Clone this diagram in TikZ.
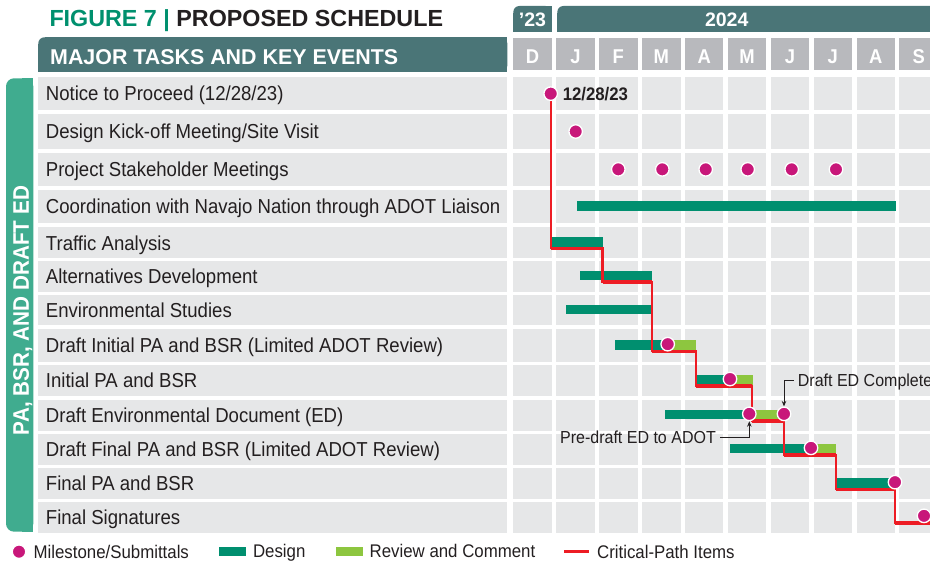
\documentclass[tikz,border=0pt]{standalone}
\usepackage{fontspec}
\setmainfont{Liberation Sans}[FakeStretch=0.92]
\newfontfamily\headfont{Liberation Sans}
\usepackage{tikz}
\usetikzlibrary{calc}
\usetikzlibrary{positioning}
\usetikzlibrary{arrows.meta}
\definecolor{figgreen}{HTML}{00906E}
\definecolor{slate}{HTML}{4A7577}
\definecolor{monthgray}{HTML}{B8B9BD}
\definecolor{cellgray}{HTML}{E6E7E8}
\definecolor{phasegreen}{HTML}{40AC8F}
\definecolor{designgreen}{HTML}{008F6F}
\definecolor{reviewgreen}{HTML}{8DC63F}
\definecolor{critred}{HTML}{ED1C24}
\definecolor{mstonepink}{HTML}{C8177A}
\definecolor{ink}{HTML}{231F20}
\newcommand{\colx}[1]{513.3+42.9*#1}
\newcommand{\colw}{38.5}
% box with only its top-left corner rounded
\newcommand{\tabfill}[5]{%
    \fill[#5, rounded corners=6pt] (#1,#2) rectangle (#3,#4);
    \fill[#5] ({#1+7},#2) rectangle (#3,#4);
    \fill[#5] (#1,{#2+7}) rectangle (#3,#4);
}
\newcommand{\taskbar}[4][design]{\fill[#1] ($(row#2)+(#3,-5.5)$) rectangle ($(row#2)+(#4,4)$);}
\tikzset{
    tasklabel/.style={anchor=base west, inner sep=0pt, text=ink, font=\fontsize{20.2}{22}\selectfont},
    monthlbl/.style={inner sep=0pt, text=white, text height=14pt, text depth=0pt, font=\bfseries\fontsize{20}{21}\selectfont},
    yearlbl/.style={inner sep=0pt, text=white, text height=13.5pt, text depth=0pt, font=\headfont\bfseries\fontsize{19.5}{21}\selectfont},
    mstone/.style={circle, fill=mstonepink, draw=white, line width=1.3pt, minimum size=13.5pt, inner sep=0pt},
    design/.style={fill=designgreen},
    review/.style={fill=reviewgreen},
    critpath/.style={draw=critred, line width=2.2pt},
    note/.style={inner xsep=4pt, inner ysep=0pt, text=ink, text height=12.5pt, text depth=0pt, font=\fontsize{17.4}{19}\selectfont},
    callout/.style={draw=ink, line width=1pt, -{Stealth[length=5.5pt, width=4.5pt]}},
    swatch/.style={minimum width=26.7pt, minimum height=9.3pt, inner sep=0pt},
    legendtext/.style={inner sep=0pt, text=ink, text height=13.3pt, text depth=0pt, font=\fontsize{18.3}{20}\selectfont}
}
\begin{document}
\begin{tikzpicture}[x=1pt, y=-1pt]
    \useasboundingbox (0,0) rectangle (930,564);

    % headings
    \node[anchor=base west, inner sep=0pt, font=\headfont\bfseries\fontsize{23.3}{26}\selectfont] (title) at (49.3,26.7)
        {\textcolor{figgreen}{FIGURE 7 |} \textcolor{ink}{PROPOSED SCHEDULE}};
    \tabfill{513.3}{6}{551.7}{31.7}{slate}
    \tabfill{557.3}{6}{940}{31.7}{slate}
    \node[yearlbl] (yr23) at (532.5,19.8) {’23};
    \node[yearlbl] (yr24) at (726.7,19.8) {2024};
    \tabfill{38.3}{37.3}{507.3}{71.7}{slate}
    \node[anchor=base west, inner sep=0pt, text=white, font=\headfont\bfseries\fontsize{21.4}{24}\selectfont] (tasks) at (50,65)
        {MAJOR TASKS AND KEY EVENTS};
    \foreach \m [count=\i from 0] in {D,J,F,M,A,M,J,J,A,S} {
        \fill[monthgray] ({\colx{\i}},38.3) rectangle ++(\colw,31.7);
        \node[monthlbl] (month\i) at ({\colx{\i}+\colw/2},56.3) {\m};
    }

    % phase tab on the left
    \fill[phasegreen, rounded corners=8pt] (6,78.3) rectangle (33.3,531.7);
    \fill[phasegreen] (22,78.3) rectangle (33.3,531.7);
    \node[rotate=90, inner sep=0pt, text=white, text height=16.1pt, text depth=0pt, font=\bfseries\fontsize{22.5}{24}\selectfont]
        (phase) at (20.8,310.5) {PA, BSR, AND DRAFT ED};

    % rows and grid
    \foreach \t/\b [count=\rw] in {77.3/110, 114/149, 152.7/186, 190/223.3, 227.3/258.3, 261/291.7, 295.3/325,
                                  329/362.3, 365/396, 400/430.7, 434/464.7, 468.3/499, 502/532.7} {
        \fill[cellgray] (38.3,\t) rectangle (507.3,\b);
        \foreach \cl in {0,...,9}
            \fill[cellgray] ({\colx{\cl}},\t) rectangle ({\colx{\cl}+\colw},\b);
        \coordinate (row\rw) at (0,{(\t+\b)/2});
    }
    \foreach \txt [count=\rw] in {{Notice to Proceed (12/28/23)}, {Design Kick-off Meeting/Site Visit},
            {Project Stakeholder Meetings}, {Coordination with Navajo Nation through ADOT Liaison},
            {Traffic Analysis}, {Alternatives Development}, {Environmental Studies},
            {Draft Initial PA and BSR (Limited ADOT Review)}, {Initial PA and BSR},
            {Draft Environmental Document (ED)}, {Draft Final PA and BSR (Limited ADOT Review)},
            {Final PA and BSR}, {Final Signatures}}
        \node[tasklabel] (task\rw) at ($(row\rw)+(45.7,7.3)$) {\txt};

    % bars
    \taskbar{4}{577}{896}
    \taskbar{5}{551.7}{602.7}
    \taskbar{6}{580}{652}
    \taskbar{7}{566}{652}
    \taskbar{8}{615}{670} \taskbar[review]{8}{667.7}{696}
    \taskbar{9}{696}{732} \taskbar[review]{9}{730}{752.7}
    \taskbar{10}{665}{752} \taskbar[review]{10}{749.3}{784}
    \taskbar{11}{730}{813} \taskbar[review]{11}{811}{835.7}
    \taskbar{12}{835}{895}

    % critical path
    \draw[critpath] ($(row1)+(550.7,0)$) |- ($(row5)+(602.5,5.6)$) |- ($(row6)+(652,5.6)$) |- ($(row8)+(696,5.6)$)
        |- ($(row9)+(752,5.6)$) |- ($(row10)+(784,5.6)$) |- ($(row11)+(835.7,5.6)$) |- ($(row12)+(895,5.6)$)
        |- ($(row13)+(940,5.6)$);
    \foreach \rw/\xa/\xb in {5/550.7/602.5, 6/602.5/652, 8/652/696, 9/696/752, 10/752/784,
                             11/784/835.7, 12/835.7/895, 13/895/940}
        \draw[critpath, line width=3.4pt] ($(row\rw)+(\xa,5.6)$) -- ($(row\rw)+(\xb,5.6)$);

    % milestones
    \node[mstone] (ntp) at ($(row1)+(550.7,0)$) {};
    \node[anchor=west, inner sep=0pt, text=ink, text height=13.1pt, text depth=0pt, font=\bfseries\fontsize{18.2}{20}\selectfont,
        right=4.5pt of ntp] (ntpdate) {12/28/23};
    \node[mstone] (kickoff) at ($(row2)+(575.7,0)$) {};
    \foreach \x [count=\k] in {618.3,662.3,705.7,747.7,791.7,836}
        \node[mstone] (meet\k) at ($(row3)+(\x,0)$) {};
    \node[mstone] (sub8) at ($(row8)+(667.7,-1.5)$) {};
    \node[mstone] (sub9) at ($(row9)+(730,-1.5)$) {};
    \node[mstone] (sub10a) at ($(row10)+(749.3,-1.5)$) {};
    \node[mstone] (sub10b) at ($(row10)+(784,-1.5)$) {};
    \node[mstone] (sub11) at ($(row11)+(811,-1.5)$) {};
    \node[mstone] (sub12) at ($(row12)+(895,-1.5)$) {};
    \node[mstone] (sub13) at ($(row13)+(924,-1.5)$) {};

    % callouts
    \node[note, anchor=west] (edcomplete) at (793.7,380.5) {Draft ED Complete};
    \draw[callout] (edcomplete.west) -| (sub10b.north);
    \node[note, anchor=east] (predraft) at (720,437.5) {Pre-draft ED to ADOT};
    \draw[callout] (predraft.east) -| (sub10a.south);

    % legend
    \node[mstone] (legmstone) at (19,551.7) {};
    \node[legendtext, right=7pt of legmstone] (legmstonetxt) {Milestone/Submittals};
    \node[swatch, fill=designgreen] (legdesign) at (232.3,551.3) {};
    \node[legendtext, right=7pt of legdesign] (legdesigntxt) {Design};
    \node[swatch, fill=reviewgreen] (legreview) at (349.3,551.3) {};
    \node[legendtext, right=6.6pt of legreview] (legreviewtxt) {Review and Comment};
    \node[swatch, minimum width=25pt, minimum height=3.5pt, fill=critred] (legcrit) at (576.8,551.7) {};
    \node[legendtext, right=7.4pt of legcrit] (legcrittxt) {Critical-Path Items};
\end{tikzpicture}
\end{document}
